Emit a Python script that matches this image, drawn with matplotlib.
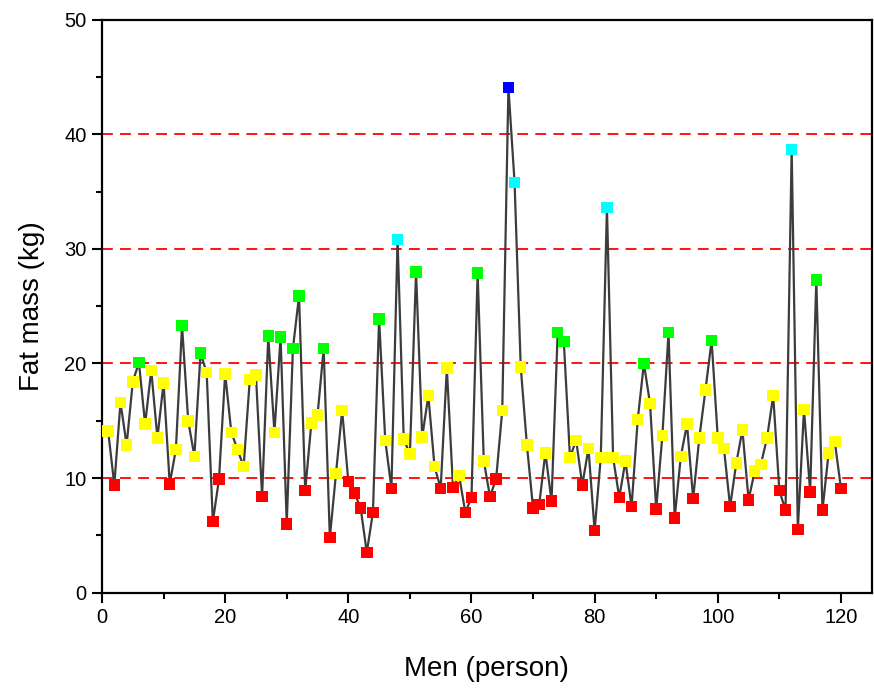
import matplotlib
matplotlib.use("Agg")
import matplotlib.pyplot as plt
from matplotlib.ticker import MultipleLocator

plt.rcParams['font.family'] = ['Liberation Sans', 'DejaVu Sans']

# fat mass of each man, in order of person number
person = list(range(1, 121))
fat_mass = [
    14.1, 9.4, 16.6, 12.9, 18.4, 20.1, 14.7, 19.4, 13.5, 18.3,
    9.5, 12.5, 23.3, 15.0, 11.9, 20.9, 19.2, 6.2, 9.9, 19.1,
    14.0, 12.5, 11.0, 18.6, 19.0, 8.4, 22.4, 14.0, 22.3, 6.0,
    21.3, 25.9, 8.9, 14.8, 15.5, 21.3, 4.8, 10.4, 15.9, 9.7,
    8.7, 7.4, 3.5, 7.0, 23.9, 13.3, 9.1, 30.8, 13.4, 12.1,
    28.0, 13.6, 17.2, 11.0, 9.1, 19.6, 9.2, 10.2, 7.0, 8.3,
    27.9, 11.5, 8.4, 9.9, 15.9, 44.1, 35.8, 19.7, 12.9, 7.4,
    7.7, 12.2, 8.0, 22.7, 21.9, 11.8, 13.3, 9.4, 12.6, 5.4,
    11.8, 33.6, 11.8, 8.3, 11.5, 7.5, 15.1, 20.0, 16.5, 7.3,
    13.7, 22.7, 6.5, 11.9, 14.7, 8.2, 13.5, 17.7, 22.0, 13.5,
    12.6, 7.5, 11.3, 14.2, 8.1, 10.6, 11.2, 13.5, 17.2, 8.9,
    7.2, 38.7, 5.5, 16.0, 8.8, 27.3, 7.2, 12.2, 13.2, 9.1,
]

# band boundaries and the colour used for each band
band_edges = [10, 20, 30, 40]
band_colors = ['#ff0000', '#ffff00', '#00ff00', '#00ffff', '#0000ff']


def band_color(v):
    for edge, c in zip(band_edges, band_colors):
        if v < edge:
            return c
    return band_colors[-1]


fig = plt.figure(figsize=(8.74, 6.92), dpi=100)
ax = fig.add_axes([0.1167, 0.1436, 0.8807, 0.8278])

for edge in band_edges:
    ax.axhline(edge, color='#ff0000', lw=1.3, ls=(0, (6, 4)), zorder=1)

ax.plot(person, fat_mass, color='#3c3c3c', lw=1.6, zorder=2)
ax.scatter(person, fat_mass, c=[band_color(v) for v in fat_mass],
           marker='s', s=68, linewidths=0, zorder=3)

ax.set_xlim(0, 125)
ax.set_ylim(0, 50)
ax.xaxis.set_major_locator(MultipleLocator(20))
ax.xaxis.set_minor_locator(MultipleLocator(10))
ax.yaxis.set_major_locator(MultipleLocator(10))
ax.yaxis.set_minor_locator(MultipleLocator(5))
ax.tick_params(which='major', direction='out', length=7, width=1.5,
               labelsize=14.5, pad=4)
ax.tick_params(which='minor', direction='out', length=4, width=1.5)
for side in ax.spines.values():
    side.set_linewidth(1.6)

ax.set_xlabel('Men (person)', fontsize=20, labelpad=21)
ax.set_ylabel('Fat mass (kg)', fontsize=20, labelpad=14)

fig.savefig('out.png', dpi=100)
